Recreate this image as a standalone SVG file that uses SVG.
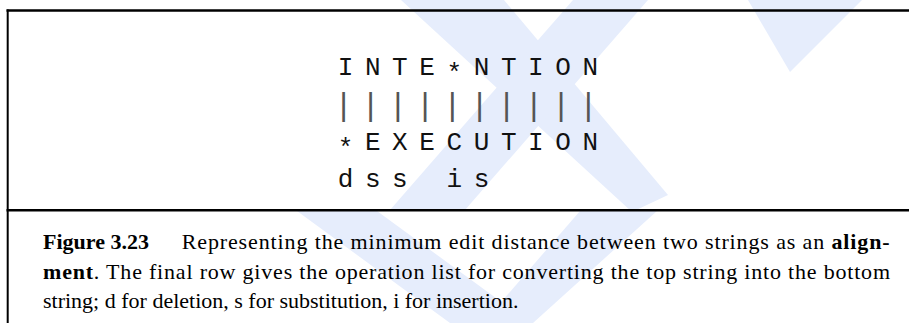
<svg xmlns="http://www.w3.org/2000/svg" width="909" height="323" viewBox="0 0 909 323">
  <style>
    .mono { font-family: "Liberation Mono", "DejaVu Sans Mono", monospace; font-size: 26px; fill: #111; }
    .bar { font-family: "Liberation Mono", "DejaVu Sans Mono", monospace; font-size: 32px; fill: #555; }
    .cap { font-family: "Liberation Serif", "Times New Roman", serif; font-size: 22px; fill: #000; }
    .b { font-weight: bold; }
    .frame { stroke: #000; fill: none; }
    .wm { fill: #e6edfc; stroke: none; }
  </style>
  <rect width="909" height="323" fill="#fff"/>
  <g id="watermark">
    <polygon class="wm" points="401,0 504,0 668,195 632,212"/>
    <polygon class="wm" points="573,0 648,0 465,210 390,210"/>
    <polygon class="wm" points="748,0 862,0 790,72"/>
    <polygon class="wm" points="297,211 377,211 530,323 450,323"/>
    <polygon class="wm" points="580,211 657,211 533,323 483,323"/>
  </g>
  <g id="frame">
    <line class="frame" x1="6.5" y1="10.5" x2="909" y2="10.5" stroke-width="2.5"/>
    <line class="frame" x1="7.7" y1="9.5" x2="7.7" y2="323" stroke-width="2"/>
    <line class="frame" x1="6.5" y1="210.3" x2="909" y2="210.3" stroke-width="2.5"/>
  </g>
  <g id="alignment">
    <text class="mono" text-anchor="middle" x="345.5 372.7 399.9 427.1 454.3 481.5 508.7 535.9 563.1 590.3" y="75" dy="0 0 0 0 6 -6 0 0 0 0">INTE*NTION</text>
    <text class="bar" text-anchor="middle" x="343.5 370.7 397.9 425.1 452.3 479.5 506.7 533.9 561.1 588.3" y="115">||||||||||</text>
    <text class="mono" text-anchor="middle" x="345.5 372.7 399.9 427.1 454.3 481.5 508.7 535.9 563.1 590.3" y="150" dy="6 -6 0 0 0 0 0 0 0 0">*EXECUTION</text>
    <text class="mono" text-anchor="middle" x="345.5 372.7 399.9 427.1 454.3 481.5" y="187">dss is</text>
  </g>
  <g id="caption">
    <text class="cap b" x="43" y="249">Figure 3.23</text>
    <text class="cap" x="181.7" y="249" textLength="708" lengthAdjust="spacing">Representing the minimum edit distance between two strings as an <tspan class="b">align-</tspan></text>
    <text class="cap" x="43" y="279" textLength="847" lengthAdjust="spacing"><tspan class="b">ment</tspan>. The final row gives the operation list for converting the top string into the bottom</text>
    <text class="cap" x="43" y="308">string; d for deletion, s for substitution, i for insertion.</text>
  </g>
</svg>
